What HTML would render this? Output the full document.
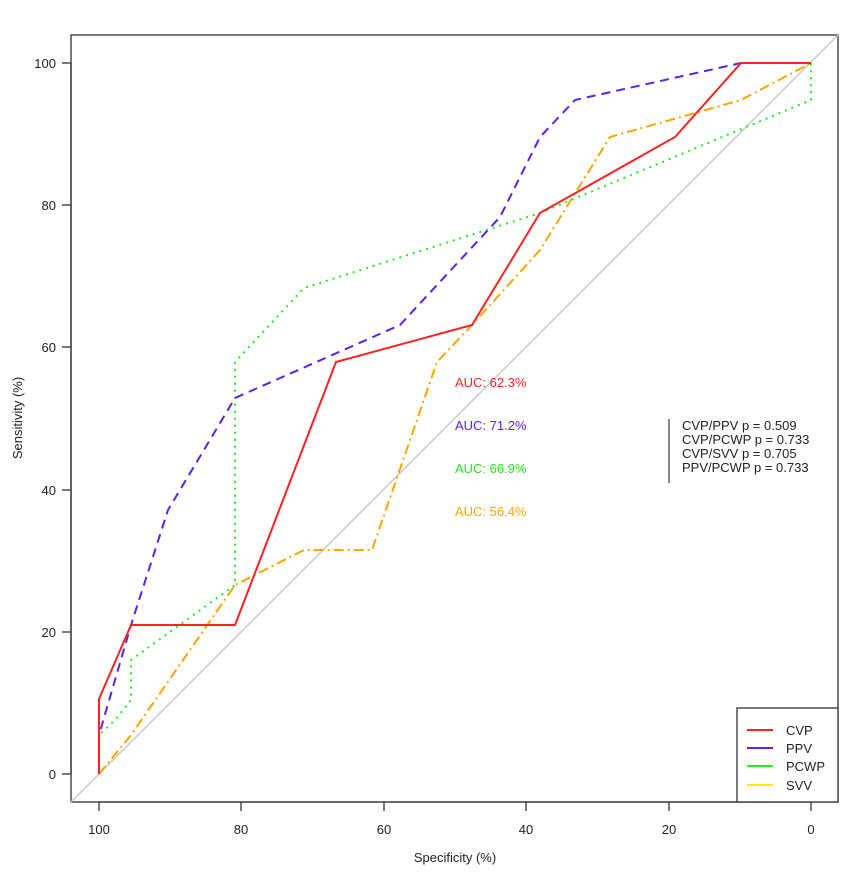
<!DOCTYPE html>
<html><head><meta charset="utf-8"><style>body{margin:0;background:#fff}svg{display:block}text{font-family:"Liberation Sans",Arial,sans-serif}</style></head>
<body>
<svg width="865" height="874" viewBox="0 0 865 874" xmlns="http://www.w3.org/2000/svg">
<rect x="71" y="35" width="767" height="767" fill="none" stroke="#333" stroke-width="1.3"/>
<g stroke="#333" stroke-width="1.3">
<line x1="99" y1="802" x2="811" y2="802"/>
<line x1="99" y1="802" x2="99" y2="811"/><line x1="241" y1="802" x2="241" y2="811"/><line x1="384" y1="802" x2="384" y2="811"/><line x1="526" y1="802" x2="526" y2="811"/><line x1="669" y1="802" x2="669" y2="811"/><line x1="811" y1="802" x2="811" y2="811"/>
<line x1="71" y1="63" x2="71" y2="774"/>
<line x1="62" y1="774" x2="71" y2="774"/><line x1="62" y1="632" x2="71" y2="632"/><line x1="62" y1="490" x2="71" y2="490"/><line x1="62" y1="347" x2="71" y2="347"/><line x1="62" y1="205" x2="71" y2="205"/><line x1="62" y1="63" x2="71" y2="63"/>
</g>
<g font-size="13" fill="#222" text-anchor="middle">
<text x="99" y="834">100</text><text x="241" y="834">80</text><text x="384" y="834">60</text><text x="526" y="834">40</text><text x="669" y="834">20</text><text x="811" y="834">0</text>
<text x="455" y="862">Specificity (%)</text>
<text transform="translate(22,418) rotate(-90)">Sensitivity (%)</text>
</g>
<g font-size="13" fill="#222" text-anchor="end">
<text x="56" y="779">0</text>
<text x="56" y="637">20</text>
<text x="56" y="495">40</text>
<text x="56" y="352">60</text>
<text x="56" y="210">80</text>
<text x="56" y="68">100</text>
</g>
<line x1="71" y1="802" x2="838" y2="35" stroke="#c8c8c8" stroke-width="1.5"/>
<polyline fill="none" stroke="#ffa500" stroke-width="2" stroke-dasharray="10,4,2,4" points="99,774 131,735 235,585 304,550 372,550 437,362 472,325 540,250 610,137 741,100 811,63"/>
<polyline fill="none" stroke="#22ee22" stroke-width="2" stroke-dasharray="2,5" points="99,774 99,735 115,720 131,700 131,660 235,585 235,362 304,288 540,213 811,100 811,63"/>
<polyline fill="none" stroke="#5522ff" stroke-width="2" stroke-dasharray="9,6" points="99,774 99,735 131,625 168,510 235,398 400,325 500,217 540,137 575,100 741,63 811,63"/>
<polyline fill="none" stroke="#ff2222" stroke-width="2" points="99,774 99,699 131,625 235,625 336,362 472,325 540,213 675,137 741,63 811,63"/>
<g font-size="13">
<text x="455" y="387" fill="#ff2222">AUC: 62.3%</text>
<text x="455" y="430" fill="#5522ff">AUC: 71.2%</text>
<text x="455" y="473" fill="#22ee22">AUC: 66.9%</text>
<text x="455" y="516" fill="#ffa500">AUC: 56.4%</text>
</g>
<line x1="669" y1="419" x2="669" y2="483" stroke="#444" stroke-width="1.3"/>
<g font-size="13" fill="#222">
<text x="682" y="430">CVP/PPV p = 0.509</text>
<text x="682" y="444">CVP/PCWP p = 0.733</text>
<text x="682" y="458">CVP/SVV p = 0.705</text>
<text x="682" y="472">PPV/PCWP p = 0.733</text>
</g>
<rect x="737" y="708" width="101" height="94" fill="#fff" stroke="#333" stroke-width="1.3"/>
<g stroke-width="2">
<line x1="747" y1="730" x2="773" y2="730" stroke="#ff2222"/>
<line x1="747" y1="748" x2="773" y2="748" stroke="#5522ff"/>
<line x1="747" y1="766" x2="773" y2="766" stroke="#22ee22"/>
<line x1="747" y1="785" x2="773" y2="785" stroke="#ffee00"/>
</g>
<g font-size="13" fill="#222">
<text x="786" y="735">CVP</text><text x="786" y="753">PPV</text><text x="786" y="771">PCWP</text><text x="786" y="790">SVV</text>
</g>
</svg>
</body></html>
